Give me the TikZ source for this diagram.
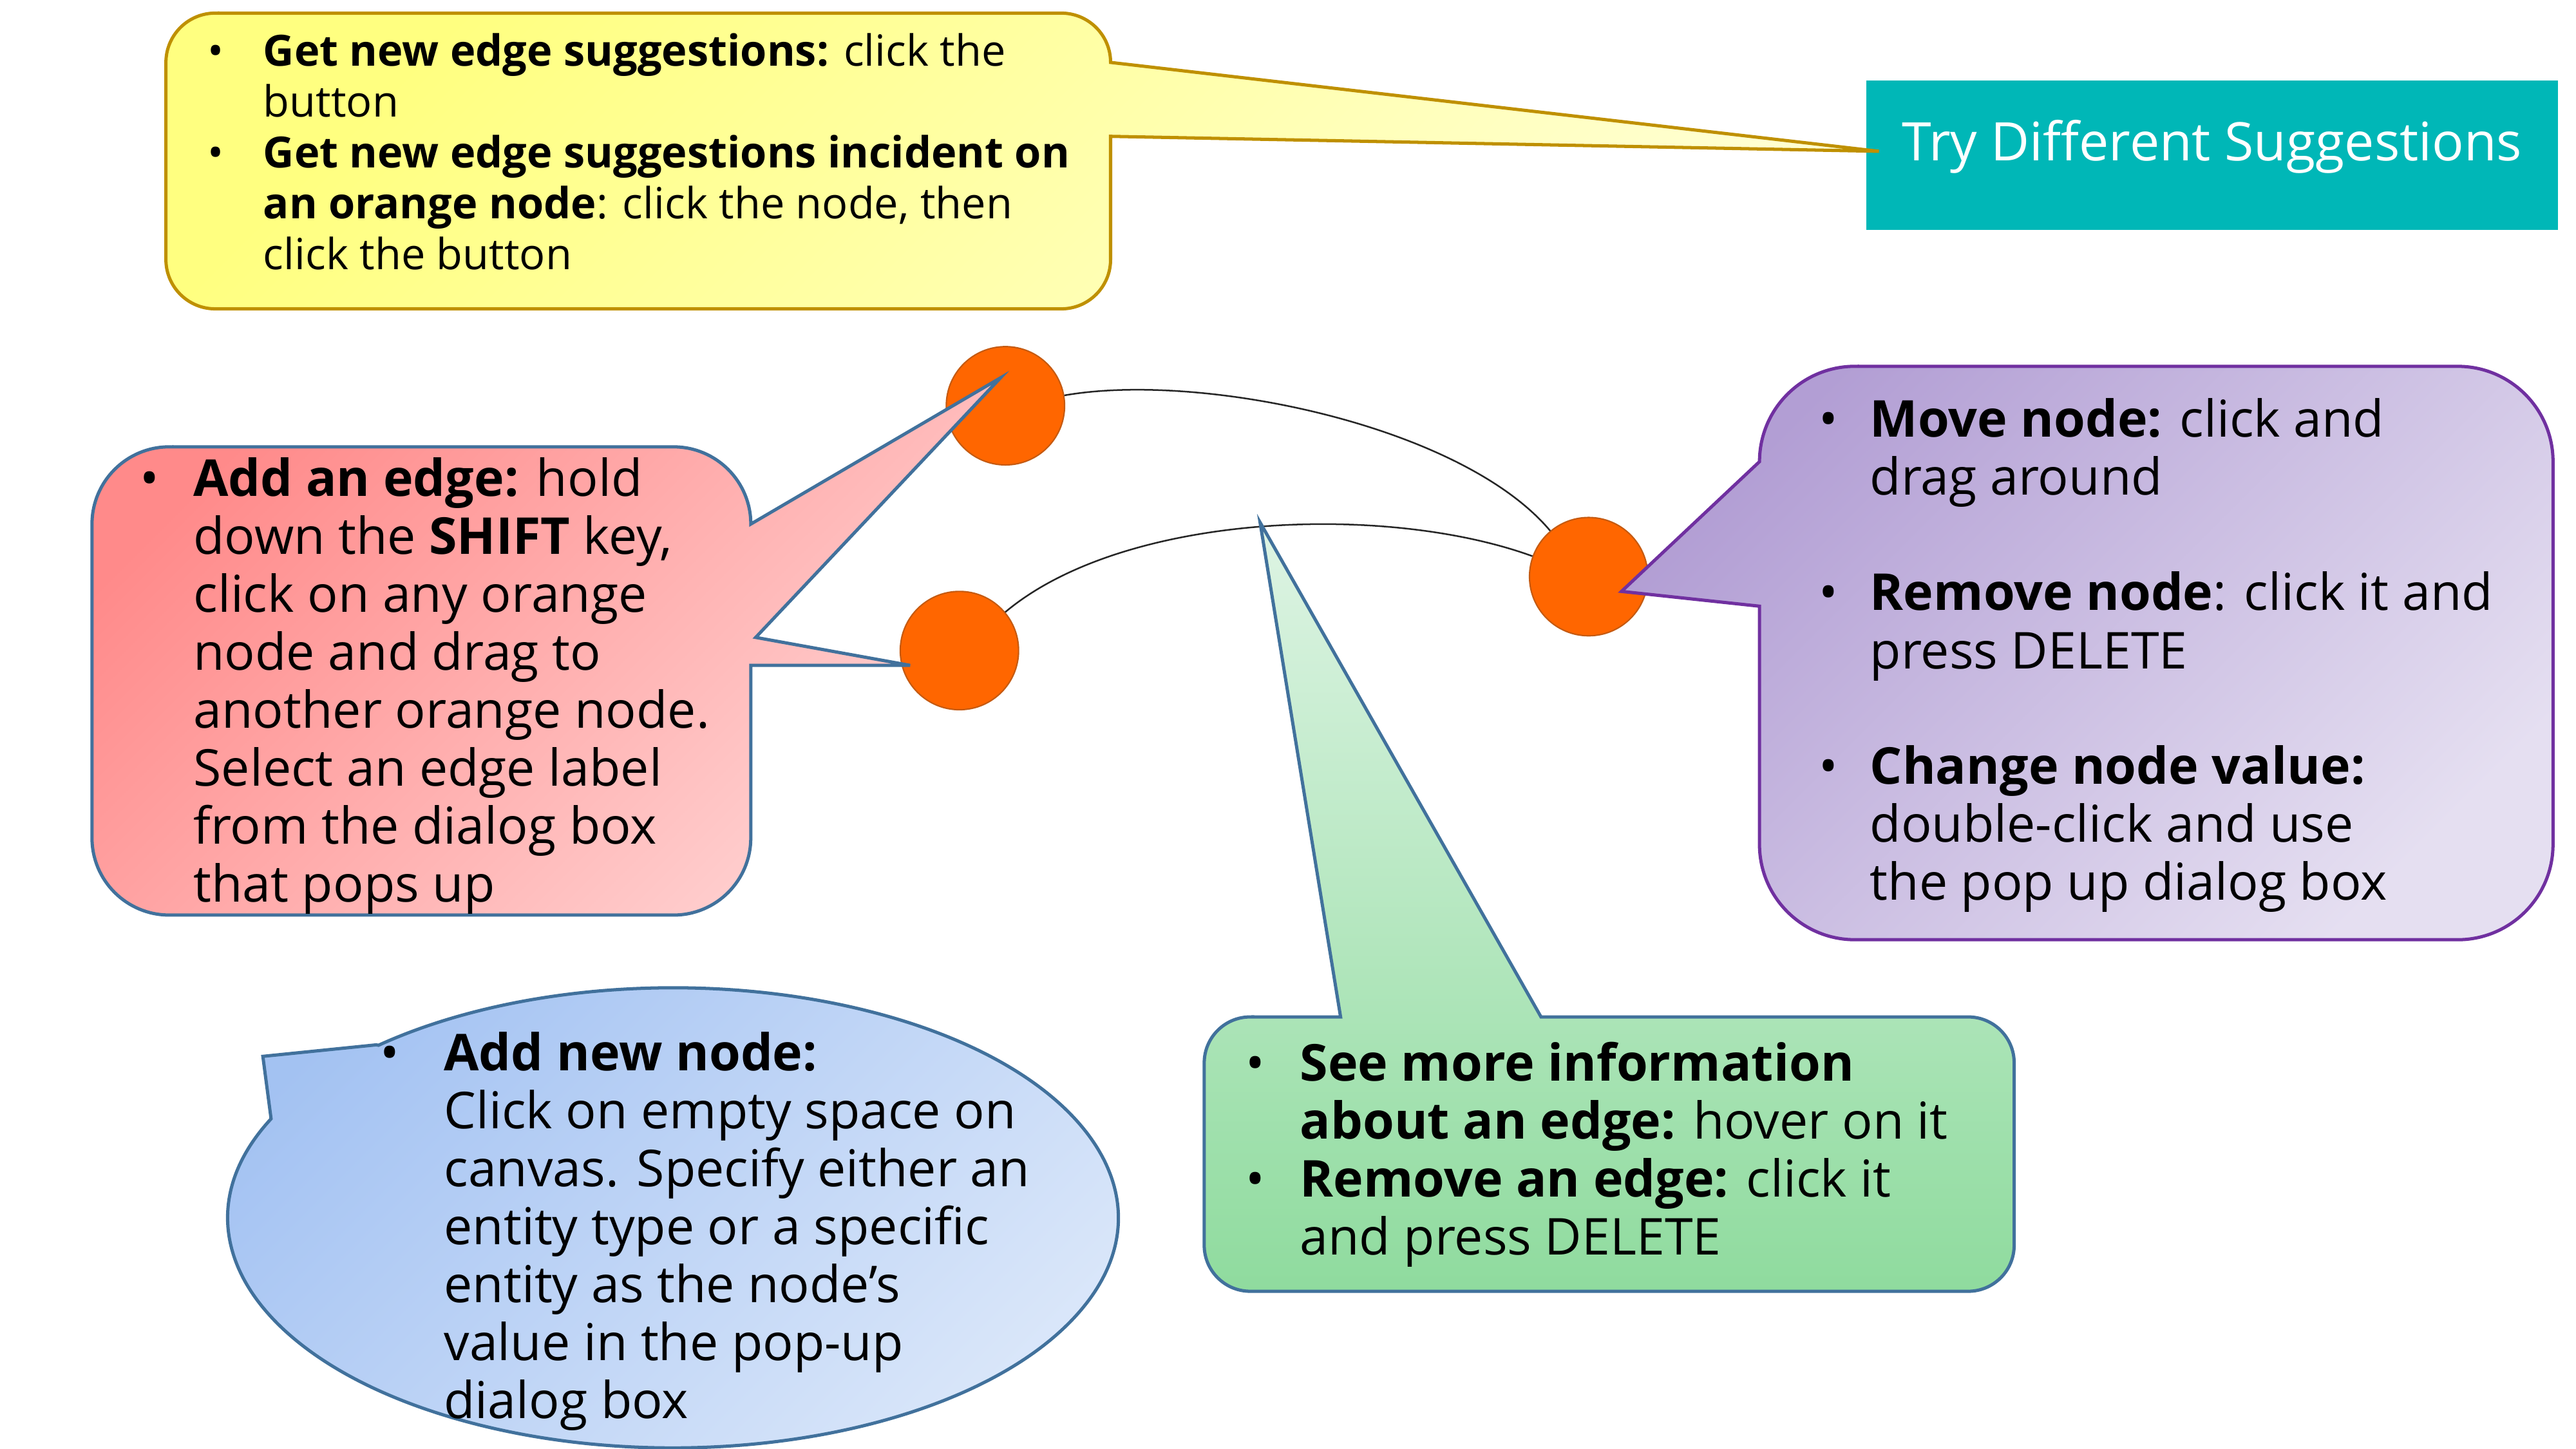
\documentclass[tikz,border=0pt]{standalone}
\usepackage{fontspec}
\setmainfont{Open Sans}
\definecolor{ylwedge}{RGB}{191,144,0}
\definecolor{ylwtop}{RGB}{255,255,128}
\definecolor{ylwbot}{RGB}{255,255,208}
\definecolor{pinktop}{RGB}{255,138,138}
\definecolor{pinkbot}{RGB}{255,210,210}
\definecolor{calloutblue}{RGB}{65,113,156}
\definecolor{lilactop}{RGB}{178,158,212}
\definecolor{lilacbot}{RGB}{229,223,241}
\definecolor{lilacedge}{RGB}{112,48,160}
\definecolor{greentop}{RGB}{222,244,228}
\definecolor{greenbot}{RGB}{143,219,158}
\definecolor{bluetop}{RGB}{163,194,242}
\definecolor{bluebot}{RGB}{220,232,250}
\definecolor{tryteal}{RGB}{0,183,183}
\definecolor{vtxorange}{RGB}{255,102,0}
\definecolor{vtxedge}{RGB}{197,90,17}
\newcommand{\bulletmark}[1]{\makebox[#1][l]{\textbullet}}
\newcommand{\hangpad}[1]{\hspace*{#1}}

\begin{document}
\begin{tikzpicture}[x=0.025cm,y=0.025cm,
    vtx/.style={circle,fill=vtxorange,draw=vtxedge,line width=0.6pt,
      minimum size=1.8cm,inner sep=0pt},
    graphline/.style={draw=black!85,line width=0.7pt},
    trybtn/.style={fill=tryteal,text=white,minimum width=10.525cm,
      minimum height=2.275cm,inner sep=0pt,
      font=\fontsize{23pt}{27pt}\selectfont,
      text height=0.61cm,text depth=0.435cm},
    note/.style={anchor=base west,inner sep=0pt,align=left,
      font=\fontsize{22pt}{25.1pt}\selectfont},
    notesmall/.style={note,font=\fontsize{18.6pt}{22pt}\selectfont},
    callout/.style={line width=1.4pt}]
    \useasboundingbox (0,0) rectangle (1568,882);

    % the little graph
    \node[vtx] (na) at (612,635) {};
    \node[vtx] (nb) at (584,486) {};
    \node[vtx] (nc) at (967,531) {};
    \draw[graphline] (na) to[out=10,in=130,looseness=0.7] (nc);
    \draw[graphline] (nb) to[out=40,in=160,looseness=0.75] (nc);

    % button
    \node[trybtn] (try) at (1346.5,787.5) {Try Different Suggestions};

    % yellow callout -> button
    \path[callout,draw=ylwedge,top color=ylwtop,bottom color=ylwbot,shading angle=45]
      (131,874) -- (646,874) arc[start angle=90,end angle=0,radius=0.75cm]
      -- ([xshift=0.2cm,yshift=0.06cm]try.west) -- (676,799) -- (676,724)
      arc[start angle=0,end angle=-90,radius=0.75cm]
      -- (131,694) arc[start angle=270,end angle=180,radius=0.75cm]
      -- (101,844) arc[start angle=180,end angle=90,radius=0.75cm] -- cycle;

    % pink callout -> two nodes
    \path[callout,draw=calloutblue,top color=pinktop,bottom color=pinkbot,shading angle=45]
      (103,610) -- (410,610) arc[start angle=90,end angle=0,radius=1.175cm]
      -- (609,652) -- (460,494) -- (554,477) -- (457,477) -- (457,372)
      arc[start angle=0,end angle=-90,radius=1.175cm]
      -- (103,325) arc[start angle=270,end angle=180,radius=1.175cm]
      -- (56,563) arc[start angle=180,end angle=90,radius=1.175cm] -- cycle;

    % lilac callout -> node
    \path[callout,draw=lilacedge,top color=lilactop,bottom color=lilacbot,shading angle=45]
      (1129,659) -- (1496,659) arc[start angle=90,end angle=0,radius=1.45cm]
      -- (1554,368) arc[start angle=0,end angle=-90,radius=1.45cm]
      -- (1129,310) arc[start angle=270,end angle=180,radius=1.45cm]
      -- (1071,513) -- (987,522) -- (1071,601)
      arc[start angle=180,end angle=90,radius=1.45cm] -- cycle;

    % green callout -> edge
    \path[callout,draw=calloutblue,top color=greentop,bottom color=greenbot]
      (761,263) -- (816,263) -- (767,564) -- (938,263) -- (1198,263)
      arc[start angle=90,end angle=0,radius=0.7cm]
      -- (1226,124) arc[start angle=0,end angle=-90,radius=0.7cm]
      -- (761,96) arc[start angle=270,end angle=180,radius=0.7cm]
      -- (733,235) arc[start angle=180,end angle=90,radius=0.7cm] -- cycle;

    % blue oval callout
    \path[callout,draw=calloutblue,top color=bluetop,bottom color=bluebot,shading angle=45]
      (229,246) -- (160,239) -- (165,201)
      arc[start angle=154.5,end angle=491.4,x radius=6.775cm,y radius=3.5cm] -- cycle;

    % texts (placed by the baseline of their last line)
    \node[notesmall] (ytxt) at (126,718) {\bulletmark{0.85cm}\textbf{Get new edge suggestions:} click the\\
      \hangpad{0.85cm}button\\
      \bulletmark{0.85cm}\textbf{Get new edge suggestions incident on}\\
      \hangpad{0.85cm}\textbf{an orange node}: click the node, then\\
      \hangpad{0.85cm}click the button};
    \node[note] (ptxt) at (85,333) {\bulletmark{0.8125cm}\textbf{Add an edge:} hold\\
      \hangpad{0.8125cm}down the \textbf{SHIFT} key,\\
      \hangpad{0.8125cm}click on any orange\\
      \hangpad{0.8125cm}node and drag to\\
      \hangpad{0.8125cm}another orange node.\\
      \hangpad{0.8125cm}Select an edge label\\
      \hangpad{0.8125cm}from the dialog box\\
      \hangpad{0.8125cm}that pops up};
    \node[note] (ltxt) at (1107,334) {\bulletmark{0.775cm}\textbf{Move node:} click and\\
      \hangpad{0.775cm}drag around\\[0.88cm]
      \bulletmark{0.775cm}\textbf{Remove node}: click it and\\
      \hangpad{0.775cm}press DELETE\\[0.88cm]
      \bulletmark{0.775cm}\textbf{Change node value:}\\
      \hangpad{0.775cm}double-click and use\\
      \hangpad{0.775cm}the pop up dialog box};
    \node[note] (gtxt) at (758,118) {\bulletmark{0.825cm}\textbf{See more information}\\
      \hangpad{0.825cm}\textbf{about an edge:} hover on it\\
      \bulletmark{0.825cm}\textbf{Remove an edge:} click it\\
      \hangpad{0.825cm}and press DELETE};
    \node[note] (btxt) at (231,18.5) {\bulletmark{0.975cm}\textbf{Add new node:}\\
      \hangpad{0.975cm}Click on empty space on\\
      \hangpad{0.975cm}canvas. Specify either an\\
      \hangpad{0.975cm}entity type or a specific\\
      \hangpad{0.975cm}entity as the node’s\\
      \hangpad{0.975cm}value in the pop-up\\
      \hangpad{0.975cm}dialog box};
\end{tikzpicture}
\end{document}
